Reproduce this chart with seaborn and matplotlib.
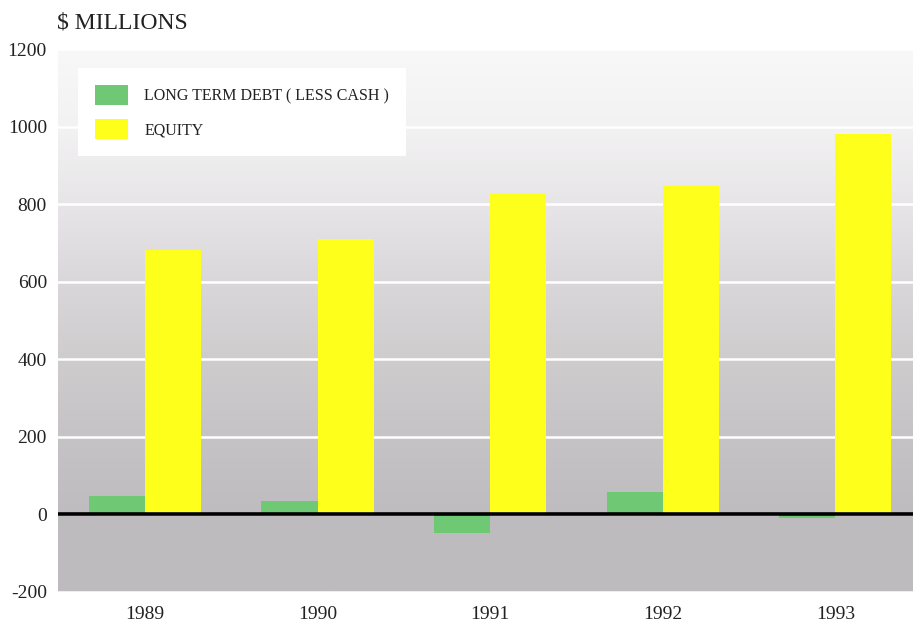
import numpy as np
import pandas as pd
import matplotlib
matplotlib.use("Agg")
import matplotlib.pyplot as plt
import seaborn as sns
from matplotlib.colors import LinearSegmentedColormap
from matplotlib.patches import Patch

years = ["1989", "1990", "1991", "1992", "1993"]
debt = [48, 34, -49, 57, -8]
equity = [681, 710, 828, 846, 981]
series_names = ["LONG TERM DEBT ( LESS CASH )", "EQUITY"]
yticks = [-200, 0, 200, 400, 600, 800, 1000, 1200]

df = pd.DataFrame({
    "year": years * 2,
    "value": debt + equity,
    "series": [series_names[0]] * len(years) + [series_names[1]] * len(years),
})

sns.set_theme(style="white")
plt.rcParams["font.family"] = ["Liberation Serif", "DejaVu Serif"]

green = "#6fc873"
yellow = "#ffff1c"

fig = plt.figure(figsize=(9.13, 6.23), dpi=100)
ax = fig.add_axes([58 / 913, 1 - 592 / 623, 1 - 58 / 913, (592 - 49) / 623])

# gradient background (light top, warm grey bottom)
cmap = LinearSegmentedColormap.from_list("bg", [
    (0.0, "#bdbbbd"), (0.143, "#bebcbe"), (0.286, "#c5c3c5"), (0.429, "#cecccd"),
    (0.571, "#d9d7d9"), (0.714, "#e7e5e7"), (0.857, "#f3f2f3"), (1.0, "#f8f8f8")])
grad = np.linspace(0, 1, 256).reshape(-1, 1)
ax.imshow(grad, extent=[0, 1, 0, 1], transform=ax.transAxes, aspect="auto",
          cmap=cmap, origin="lower", zorder=-2)

sns.barplot(data=df, x="year", y="value", hue="series", palette=[green, yellow],
            width=0.65, saturation=1, ax=ax, legend=False, zorder=3, linewidth=0)

ax.set_xlim(-0.504, 4.45)
ax.set_ylim(-200, 1200)
ax.set_yticks(yticks)
ax.set_yticklabels([str(t) for t in yticks])
ax.yaxis.grid(True, color="white", linewidth=1.8, zorder=1)
ax.xaxis.grid(False)
ax.set_axisbelow(True)
ax.axhline(0, color="black", linewidth=2.6, zorder=4)
for s in ax.spines.values():
    s.set_visible(False)
ax.tick_params(axis="both", length=0, labelsize=14, colors="#222222", pad=8)
ax.tick_params(axis="x", pad=10)
ax.set_xlabel("")
ax.set_ylabel("")

fig.text(57 / 913, 1 - 23 / 623, "$ MILLIONS", fontsize=17, color="#222222",
         va="center", ha="left")

handles = [Patch(facecolor=green, edgecolor="none"), Patch(facecolor=yellow, edgecolor="none")]
leg = ax.legend(handles, series_names, loc="upper left",
                bbox_to_anchor=((78 - 58) / 855, (592 - 68) / 543),
                frameon=True, fancybox=False, facecolor="white", edgecolor="white",
                framealpha=1, fontsize=11.5, handlelength=2.1, handleheight=1.6,
                borderpad=1.05, labelspacing=0.85, handletextpad=1.0, borderaxespad=0)
for t in leg.get_texts():
    t.set_color("#222222")
leg.get_frame().set_linewidth(0)
leg.set_zorder(5)

fig.savefig("out.png", dpi=100)
